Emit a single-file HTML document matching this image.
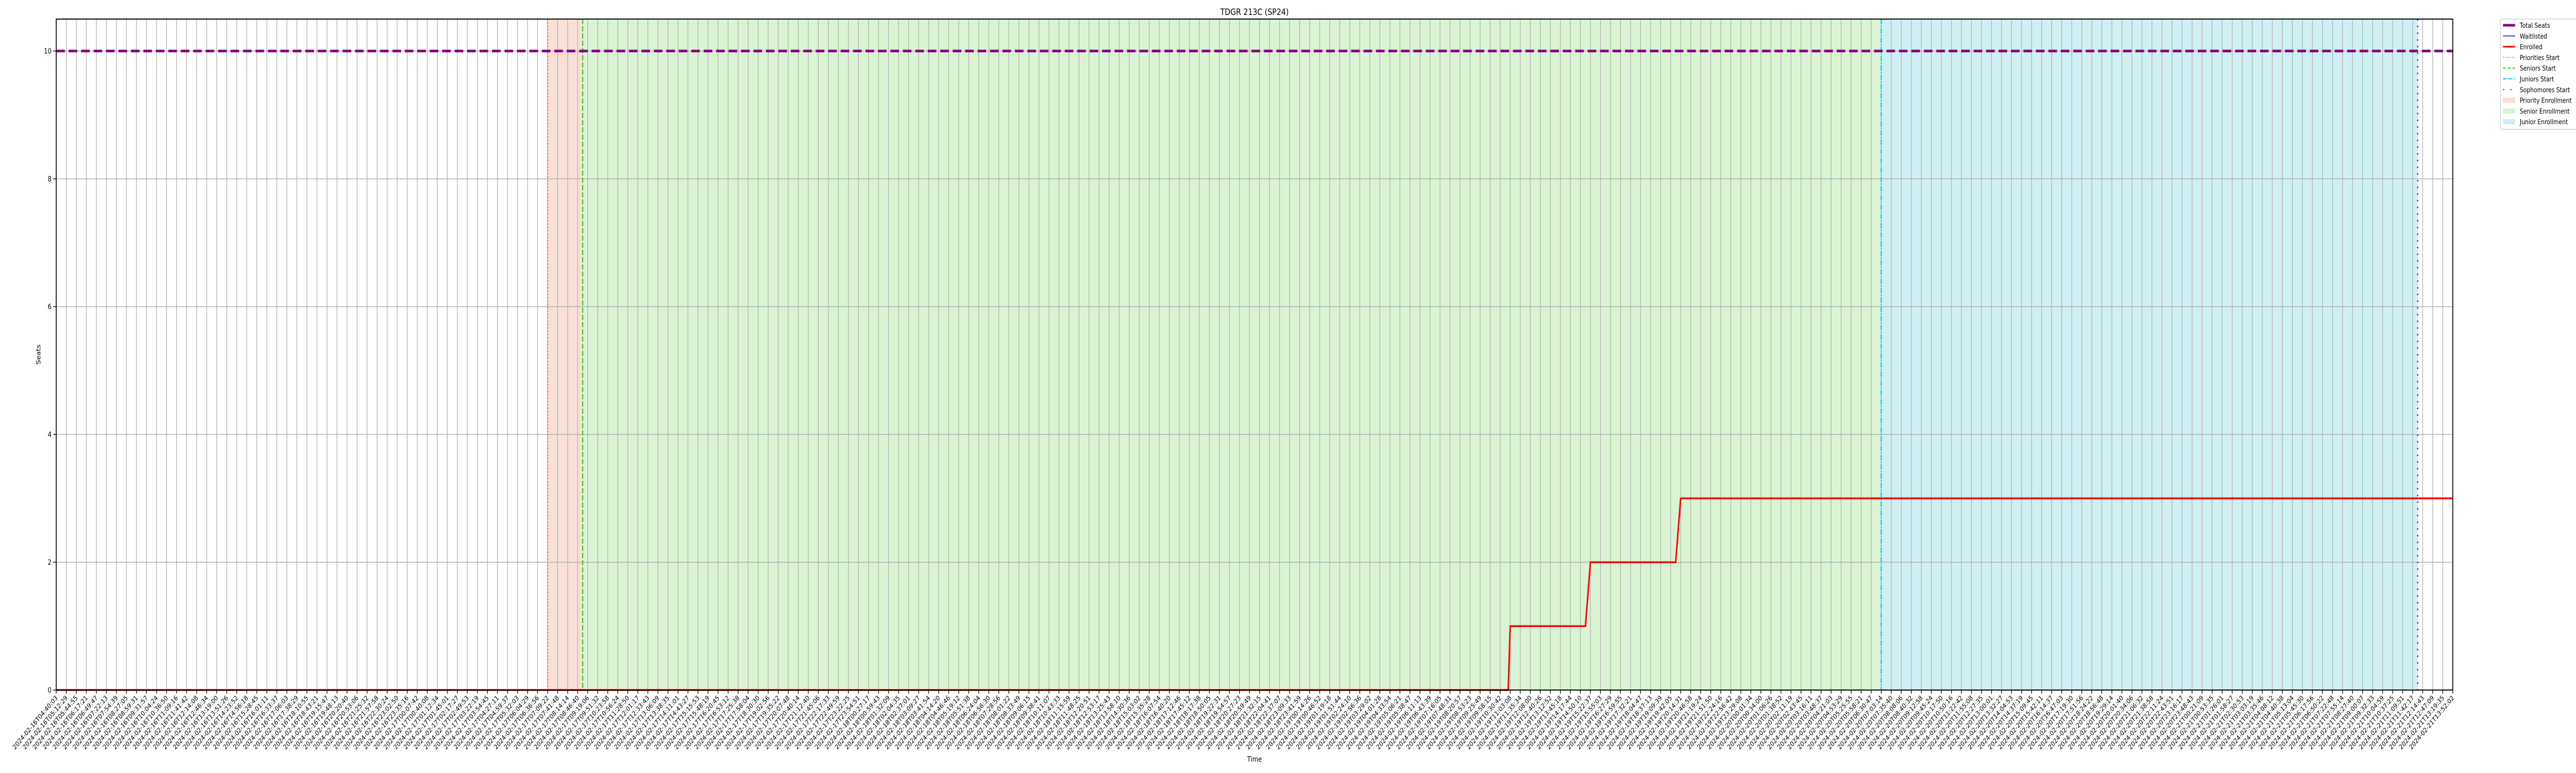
<!DOCTYPE html>
<html><head><meta charset="utf-8"><style>
html,body{margin:0;padding:0;background:#fff;width:100vw;height:100vh;overflow:hidden}
#chart{position:fixed;left:0;top:0;width:100vw;height:100vh;display:block}
text{font-family:"DejaVu Sans","Liberation Sans",sans-serif}
</style></head><body>
<svg id="chart" xmlns="http://www.w3.org/2000/svg" viewBox="0 0 6000 1500" preserveAspectRatio="none"></svg>
<script>
const tickCount = 240;
const startTime = "2024-02-16T04:40:03";
const endTime = "2024-02-21T13:52:02";
const yTicks = [0, 2, 4, 6, 8, 10];
const totalSeats = 10;
const enrolledX = [0, 144.8, 145.0, 152.5, 153.0, 161.5, 162.0, 239];
const enrolledY = [0, 0, 1, 1, 2, 2, 3, 3];
const waitlistedX = [0, 239];
const waitlistedY = [0, 0];
const prioritiesStart = 49.0;
const seniorsStart = 52.5;
const juniorsStart = 182.0;
const sophomoresStart = 235.5;

const L=131,R=5713,T=37,B=1339;
const xs=i=>L+(R-L)*i/(tickCount-1);
const ys=v=>B-(B-T)*v/10.5;
const svg=document.getElementById('chart');
const NS='http://www.w3.org/2000/svg';
function mk(tag,attrs,parent){const e=document.createElementNS(NS,tag);for(const k in attrs)e.setAttribute(k,attrs[k]);(parent||svg).appendChild(e);return e;}
function pad(n){return String(n).padStart(2,'0');}
function fmt(d){return d.getUTCFullYear()+'-'+pad(d.getUTCMonth()+1)+'-'+pad(d.getUTCDate())+'T'+pad(d.getUTCHours())+':'+pad(d.getUTCMinutes())+':'+pad(d.getUTCSeconds());}
const t0=Date.parse(startTime+'Z'),t1=Date.parse(endTime+'Z');

let r;
r=mk('rect',{x:xs(prioritiesStart),y:T,width:xs(seniorsStart)-xs(prioritiesStart),height:B-T,fill:'#f9e0d7'});


r=mk('rect',{x:xs(seniorsStart),y:T,width:xs(juniorsStart)-xs(seniorsStart),height:B-T,fill:'#daf4d3'});


r=mk('rect',{x:xs(juniorsStart),y:T,width:xs(sophomoresStart)-xs(juniorsStart),height:B-T,fill:'#cff0f2'});



for(let i=0;i<tickCount;i++){
  const g=mk('line',{x1:xs(i),x2:xs(i),y1:T,y2:B,stroke:'#b0b0b0','stroke-width':1.5});
  
  
}
yTicks.forEach(v=>{
  const g=mk('line',{x1:L,x2:R,y1:ys(v),y2:ys(v),stroke:'#b0b0b0','stroke-width':1.5});
  
  
});

function vline(x,color,dash,name,w){const l=mk('line',{x1:xs(x),x2:xs(x),y1:T,y2:B,stroke:color,'stroke-width':w||2.5,'stroke-dasharray':dash});

}
vline(prioritiesStart,'#e8743b','2.5 4','priorities-start-line');
vline(seniorsStart,'#33cc11','10 4','seniors-start-line');
vline(juniorsStart,'#00c8d0','10 3 2 3','juniors-start-line');
vline(sophomoresStart,'#6a2bd9','3 10','sophomores-start-line',3);

let ts=mk('line',{x1:L,x2:R,y1:ys(totalSeats),y2:ys(totalSeats),stroke:'#800080','stroke-width':5,'stroke-dasharray':'20 9'});


let wp=mk('polyline',{points:waitlistedX.map((x,i)=>xs(x)+','+ys(waitlistedY[i])).join(' '),fill:'none',stroke:'#0000ff','stroke-width':2});


let ep=mk('polyline',{points:enrolledX.map((x,i)=>xs(x)+','+ys(enrolledY[i])).join(' '),fill:'none',stroke:'#ff0000','stroke-width':3.5});



let fr=mk('rect',{x:L,y:T,width:R-L,height:B-T,fill:'none',stroke:'#000','stroke-width':2});



for(let i=0;i<tickCount;i++){
  const x=xs(i);
  const tk=mk('line',{x1:x,x2:x,y1:B,y2:B+7,stroke:'#000','stroke-width':1.5});
  
  
  const d=new Date(t0+(t1-t0)*i/(tickCount-1));
  const tx=mk('text',{x:x+4,y:B+16,'font-size':13,'text-anchor':'end',transform:`rotate(-45 ${x+4} ${B+16})`});
  tx.textContent=fmt(d);
  
  
}
yTicks.forEach(v=>{
  const tk=mk('line',{x1:L-7,x2:L,y1:ys(v),y2:ys(v),stroke:'#000','stroke-width':1.5});
  
  
  const tx=mk('text',{x:L-11,y:ys(v)+5,'font-size':14,'text-anchor':'end'});
  tx.textContent=v;
  
  
});
let t;
t=mk('text',{x:(L+R)/2,y:29,'font-size':17,'text-anchor':'middle'});t.textContent='TDGR 213C (SP24)';


t=mk('text',{x:(L+R)/2,y:1478,'font-size':14,'text-anchor':'middle'});t.textContent='Time';


t=mk('text',{x:94,y:(T+B)/2,'font-size':14,'text-anchor':'middle',transform:`rotate(-90 94 ${(T+B)/2})`});t.textContent='Seats';



const lg=mk('g',{});


mk('rect',{x:5824,y:37,width:190,height:214,rx:3,fill:'#fff',stroke:'#d0d0d0','stroke-width':1.5},lg);
const entries=[
 ['Total Seats','line','#800080',5,'none'],
 ['Waitlisted','line','#0000ff',1.5,'none'],
 ['Enrolled','line','#ff0000',3,'none'],
 ['Priorities Start','line','#e8743b',2,'2 3.5'],
 ['Seniors Start','line','#33cc11',2,'7 4'],
 ['Juniors Start','line','#00c8d0',2,'7 2 2 2'],
 ['Sophomores Start','line','#6a2bd9',2,'3 14'],
 ['Priority Enrollment','patch','#f9e0d7'],
 ['Senior Enrollment','patch','#daf4d3'],
 ['Junior Enrollment','patch','#cff0f2']];
entries.forEach((e,i)=>{
  const y=49+i*20.8;
  let h;
  if(e[1]==='line'){h=mk('line',{x1:5830,x2:5858,y1:y,y2:y,stroke:e[2],'stroke-width':e[3],'stroke-dasharray':e[4]},lg);}
  else{h=mk('rect',{x:5830,y:y-5,width:28,height:10,fill:e[2]},lg);}
  
  
  const tx=mk('text',{x:5869,y:y+5,'font-size':13},lg);
  tx.textContent=e[0];
  
  
});
</script>
</body></html>
